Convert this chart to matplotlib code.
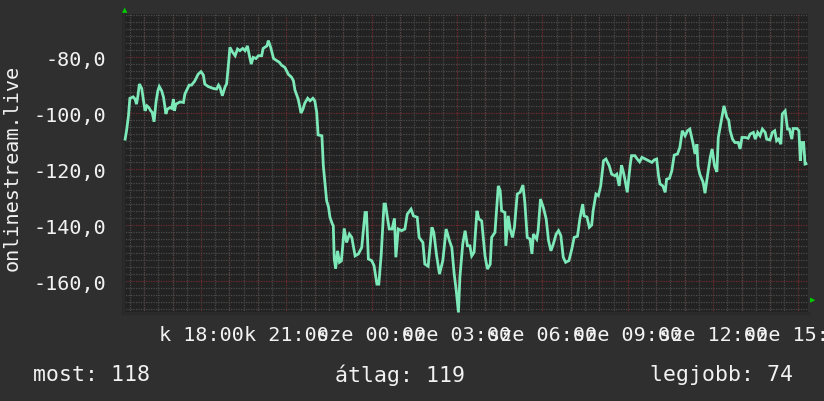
import matplotlib
matplotlib.use("Agg")
import matplotlib.pyplot as plt
from matplotlib.ticker import MultipleLocator, FixedLocator

# minutes after 15:00 (day 1) and signal values
minutes = [20, 23, 27, 30, 37, 41, 44, 47, 50, 55, 62, 66, 70, 74, 77, 81, 85, 89, 92, 97,
           101, 106, 109, 115, 118, 122, 124, 127, 136, 143, 146, 155, 160, 167, 174, 180, 185, 188, 195, 206,
           213, 217, 220, 225, 231, 234, 238, 241, 246, 252, 257, 262, 268, 273, 278, 282, 286, 290, 296, 301,
           308, 311, 319, 322, 327, 333, 340, 345, 350, 357, 364, 371, 375, 378, 385, 391, 395, 399, 405, 410,
           416, 420, 424, 427, 435, 438, 442, 445, 449, 452, 457, 459, 461, 464, 468, 472, 476, 478, 482, 487,
           493, 498, 505, 512, 519, 526, 529, 533, 540, 545, 551, 555, 560, 566, 569, 573, 577, 583, 588, 591,
           596, 603, 610, 615, 623, 628, 636, 640, 648, 652, 659, 667, 671, 677, 683, 690, 697, 704, 709, 714,
           718, 723, 726, 732, 737, 742, 747, 751, 756, 762, 766, 772, 779, 784, 790, 793, 800, 807, 811, 814,
           821, 823, 828, 832, 837, 841, 847, 853, 859, 863, 868, 874, 878, 881, 888, 891, 896, 902, 908, 913,
           918, 923, 929, 934, 939, 944, 949, 956, 962, 967, 974, 979, 985, 988, 994, 999, 1004, 1007, 1013, 1018,
           1023, 1029, 1034, 1041, 1046, 1053, 1057, 1062, 1067, 1071, 1074, 1079, 1085, 1088, 1095, 1100, 1105, 1110, 1117, 1124,
           1131, 1136, 1141, 1145, 1148, 1154, 1159, 1162, 1168, 1173, 1178, 1185, 1190, 1195, 1201, 1206, 1211, 1218, 1222, 1226,
           1228, 1232, 1239, 1243, 1248, 1254, 1258, 1263, 1268, 1271, 1278, 1283, 1289, 1293, 1296, 1301, 1306, 1313, 1317, 1321,
           1328, 1334, 1338, 1345, 1349, 1354, 1359, 1364, 1370, 1373, 1380, 1385, 1390, 1394, 1398, 1403, 1406, 1412, 1417, 1421,
           1426, 1429, 1437, 1441, 1444, 1447, 1451, 1454, 1456]
signal = [-109.2, -106.2, -100.9, -94.6, -94.1, -94.9, -96.7, -93.7, -89.5, -91.1, -99.1, -97.3, -97.9, -99.1, -99.6, -103.0, -96.1, -91.9, -90.4, -91.9,
          -94.3, -100.2, -98.5, -97.9, -98.2, -94.9, -99.1, -96.7, -95.9, -96.1, -93.1, -89.9, -89.9, -88.4, -86.0, -85.1, -86.3, -89.5, -90.4, -91.1,
          -91.3, -89.9, -90.7, -93.7, -90.4, -89.5, -82.4, -76.4, -78.0, -79.4, -77.0, -77.6, -76.8, -77.6, -75.9, -79.4, -82.4, -80.0, -80.4, -79.4,
          -79.4, -76.8, -75.9, -74.0, -76.4, -80.4, -81.2, -81.7, -82.8, -83.6, -86.0, -87.1, -88.4, -91.6, -94.9, -99.9, -98.5, -96.3, -94.6, -95.5,
          -94.6, -95.5, -99.6, -107.7, -108.0, -118.7, -125.9, -131.2, -133.5, -137.1, -139.5, -140.1, -152.0, -155.4, -149.1, -153.2, -152.7, -149.1, -141.1, -146.1,
          -143.1, -144.3, -150.9, -150.2, -147.9, -135.4, -135.4, -152.0, -152.6, -154.4, -161.0, -161.0, -150.6, -132.4, -132.4, -137.1, -141.3, -141.3, -137.5, -151.4,
          -141.3, -141.9, -141.3, -136.0, -134.2, -136.6, -137.1, -144.3, -146.1, -153.8, -154.6, -140.7, -142.5, -150.9, -157.4, -152.6, -141.3, -145.5, -147.9, -157.4,
          -162.8, -171.1, -158.6, -146.7, -141.9, -147.3, -147.3, -150.9, -149.6, -134.8, -137.7, -138.4, -150.9, -155.6, -153.9, -144.3, -142.5, -125.9, -127.6, -134.8,
          -135.4, -147.3, -136.6, -141.3, -144.3, -140.7, -128.8, -128.2, -125.6, -131.8, -144.3, -144.9, -150.2, -143.1, -144.9, -141.9, -130.6, -133.6, -137.7, -145.5,
          -149.1, -146.7, -143.1, -141.9, -143.7, -151.4, -153.2, -152.6, -148.5, -144.3, -143.9, -137.7, -132.4, -136.6, -137.0, -140.7, -139.9, -134.8, -128.8, -129.4,
          -125.9, -116.9, -116.3, -118.7, -121.7, -122.3, -121.7, -125.9, -118.5, -121.1, -123.5, -128.2, -118.7, -115.1, -115.1, -116.3, -117.3, -115.7, -116.3, -116.9,
          -117.5, -116.6, -116.3, -122.3, -125.2, -125.9, -128.2, -123.5, -123.2, -120.5, -114.9, -114.5, -112.1, -106.2, -108.0, -106.2, -105.6, -111.0, -114.5, -111.0,
          -118.7, -121.7, -124.6, -128.5, -122.5, -115.7, -112.7, -118.7, -120.9, -108.6, -102.0, -97.3, -101.4, -102.4, -106.2, -109.2, -110.4, -110.4, -112.7, -108.6,
          -108.6, -108.9, -107.4, -106.8, -109.2, -106.8, -108.0, -105.6, -106.8, -109.2, -109.5, -106.8, -106.2, -109.8, -109.2, -111.0, -100.2, -99.1, -105.6, -105.6,
          -109.2, -105.4, -105.4, -106.2, -116.9, -110.4, -110.4, -118.1, -118.0]

tick_minutes = [180, 360, 540, 720, 900, 1080, 1260, 1440]
tick_labels = ["k 18:00", "k 21:00", "sze 00:00", "sze 03:00",
               "sze 06:00", "sze 09:00", "sze 12:00", "sze 15:00"]
y_ticks = [-160, -140, -120, -100, -80]
y_tick_labels = ["-160,0", "-140,0", "-120,0", "-100,0", "-80,0"]
y_label = "onlinestream.live"
summary = [("most: 118", 33), ("átlag: 119", 335), ("legjobb: 74", 650)]

FIG_BG = "#2f2f2f"
AX_BG = "#222222"
LINE = "#7de8b8"
RED = "#6e2c2c"
GRAY = "#4a4a4a"
TXT = "#f2f2f2"
FONT = "DejaVu Sans Mono"

W, H = 824, 402
fig = plt.figure(figsize=(W / 100, H / 100), dpi=100, facecolor=FIG_BG)
ax = fig.add_axes([123 / W, 1 - 314 / H, (808 - 123) / W, (314 - 15) / H])
ax.set_facecolor(AX_BG)

ax.set_xlim(15.5, 1460.2)
ax.set_ylim(-171.3, -64.5)

# grid
ax.xaxis.set_minor_locator(MultipleLocator(30))
ax.yaxis.set_minor_locator(MultipleLocator(2.5))
ax.grid(which="minor", axis="both", color=GRAY, linestyle=(0, (1, 1)), linewidth=0.9, zorder=1)
for m in range(60, 1460, 60):
    ax.axvline(m, color=RED, linestyle=(0, (1, 1)), linewidth=0.9, zorder=1.5)
for v in y_ticks:
    ax.axhline(v, color=RED, linestyle=(0, (1, 1)), linewidth=0.9, zorder=1.5)

ax.plot(minutes, signal, color=LINE, linewidth=2.0, zorder=3, solid_joinstyle="miter")

ax.xaxis.set_major_locator(FixedLocator(tick_minutes))
ax.set_xticklabels(tick_labels)
ax.set_yticks(y_ticks)
ax.set_yticklabels(y_tick_labels)
ax.tick_params(axis="both", which="both", length=0, colors=TXT)
ax.tick_params(axis="x", pad=9)
ax.tick_params(axis="y", pad=12)
for lab in ax.get_xticklabels() + ax.get_yticklabels():
    lab.set_fontfamily(FONT)
    lab.set_fontsize(14.5)
    lab.set_color(TXT)

for s in ["top", "right"]:
    ax.spines[s].set_visible(False)
ax.spines["left"].set_color("#2a2a2a")
ax.spines["left"].set_linewidth(2.5)
ax.spines["bottom"].set_color("#2a2a2a")
ax.spines["bottom"].set_linewidth(2.5)

fig.text(12 / W, 1 - 168 / H, y_label, rotation=90, ha="center", va="center",
         color=TXT, fontsize=14.5, fontfamily=FONT)

for txt, x in summary:
    fig.text(x / W, 1 - 375 / H, txt, ha="left", va="center",
             color=TXT, fontsize=15.5, fontfamily=FONT)

# small green arrows (axis ends)
fig.text(125 / W, 1 - 10 / H, "\u25B2", color="#00cc00", fontsize=5, ha="center", va="center")
fig.text(813 / W, 1 - 300 / H, "\u25B6", color="#00cc00", fontsize=5, ha="center", va="center")

fig.savefig("out.png", dpi=100, facecolor=FIG_BG)
